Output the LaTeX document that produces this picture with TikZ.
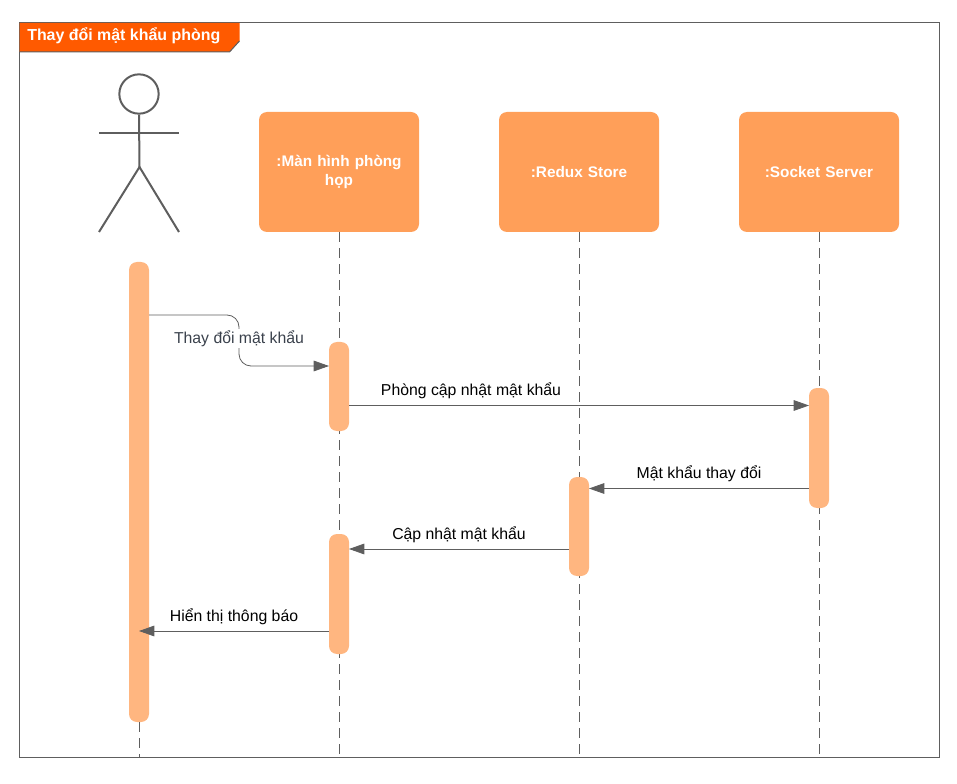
\documentclass[tikz,border=0pt]{standalone}
\usepackage{fontspec}
\setmainfont{Liberation Sans}
\usetikzlibrary{arrows.meta}
\definecolor{linegray}{HTML}{5E5E5E}
\definecolor{boxorange}{HTML}{FF9F59}
\definecolor{barorange}{HTML}{FFB680}
\definecolor{titleorange}{HTML}{FF5A00}
\definecolor{labeldark}{HTML}{3A414C}
\tikzset{
  lifebox/.style={draw=none,fill=boxorange,rounded corners=6pt,minimum width=120pt,minimum height=90pt,inner sep=0pt,text=white,font=\fontsize{11.5pt}{14pt}\selectfont\bfseries,align=center,text width=116pt},
  actbar/.style={draw=none,fill=barorange,rounded corners=6pt,minimum width=15pt,inner sep=0pt},
  lifeline/.style={draw=linegray,line width=0.6pt,dash pattern=on 7.5pt off 4.5pt},
  msg/.style={draw=linegray,line width=0.6pt,-{Triangle[length=11.5pt,width=8pt]},color=linegray},
  msglabel/.style={font=\fontsize{11.85pt}{14pt}\selectfont,text=black,inner sep=0pt},
  stick/.style={draw=linegray,line width=1.5pt},
}
\begin{document}
\begin{tikzpicture}[x=0.75pt,y=-0.75pt]
\useasboundingbox (0,0) rectangle (957,784);
% frame
\coordinate (frameTL) at (19.5,22.8);
\coordinate (frameBR) at (939.5,757.5);
\draw[draw=linegray,line width=0.75pt] (frameTL) rectangle (frameBR);
\fill[titleorange] (19.5,23) -- (239.5,23) -- (239.5,41) -- (229.5,52) -- (19.5,52) -- cycle;
\draw[draw=linegray,line width=0.75pt] (239.5,41) -- (229.5,52) -- (19.5,52);
\node[anchor=west,inner sep=0pt,text=white,font=\fontsize{11.95pt}{14pt}\selectfont\bfseries] (title) at (27,36) {Thay đổi mật khẩu phòng};
% lifeline heads
\node[lifebox] (screen) at (339,172) {:Màn hình phòng\\họp};
\node[lifebox] (store) at (579,172) {:Redux Store};
\node[lifebox] (socket) at (819,172) {:Socket Server};
% lifeline ends
\coordinate (actorEnd) at (139,757);
\coordinate (screenEnd) at (339,757);
\coordinate (storeEnd) at (579,757);
\coordinate (socketEnd) at (819,757);
% actor
\node[circle,draw=linegray,line width=1.5pt,minimum size=29.5pt,inner sep=0pt] (head) at (139,94) {};
\coordinate (hip) at (139.5,167);
\coordinate (armL) at (99,133);
\coordinate (armR) at (179,133);
\coordinate (legL) at (99,232);
\coordinate (legR) at (179,232);
\draw[stick] (head.south) -- (hip);
\draw[stick] (armL) -- (armR);
\draw[stick] (legL) -- (hip) -- (legR);
% activation bars
\node[actbar,minimum height=345pt] (barA) at (139,492) {};
\draw[lifeline] (barA.south) -- (actorEnd);
\draw[lifeline] (screen.south) -- (screenEnd);
\draw[lifeline] (store.south) -- (storeEnd);
\draw[lifeline] (socket.south) -- (socketEnd);
\node[actbar,minimum height=66.75pt] (barS1) at (339,386.5) {};
\node[actbar,minimum height=90pt] (barS2) at (339,594) {};
\node[actbar,minimum height=74.25pt] (barR) at (579,526.5) {};
\node[actbar,minimum height=90pt] (barK) at (819,448) {};
% messages
\coordinate (m1s) at (149,315);
\coordinate (m1e) at (329,366);
\coordinate (m1a) at (239,315);
\coordinate (m1b) at (239,366);
\draw[msg,rounded corners=9pt] (m1s) -- (m1a) -- (m1b) -- (m1e);
\node[fill=white,font=\fontsize{11.85pt}{14pt}\selectfont,text=labeldark,inner sep=1pt] (l1) at (239,338.5) {Thay đổi mật khẩu};
\coordinate (m2s) at (349,405.5);
\coordinate (m2e) at (809,405.5);
\draw[msg] (m2s) -- (m2e);
\node[msglabel] (l2) at (471,390.5) {Phòng cập nhật mật khẩu};
\coordinate (m3s) at (809,488.5);
\coordinate (m3e) at (589,488.5);
\draw[msg] (m3s) -- (m3e);
\node[msglabel] (l3) at (699,473.5) {Mật khẩu thay đổi};
\coordinate (m4s) at (569,549);
\coordinate (m4e) at (349,549);
\draw[msg] (m4s) -- (m4e);
\node[msglabel] (l4) at (459,534.5) {Cập nhật mật khẩu};
\coordinate (m5s) at (329,631);
\coordinate (m5e) at (139,631);
\draw[msg] (m5s) -- (m5e);
\node[msglabel] (l5) at (234,616.5) {Hiển thị thông báo};
\end{tikzpicture}
\end{document}
